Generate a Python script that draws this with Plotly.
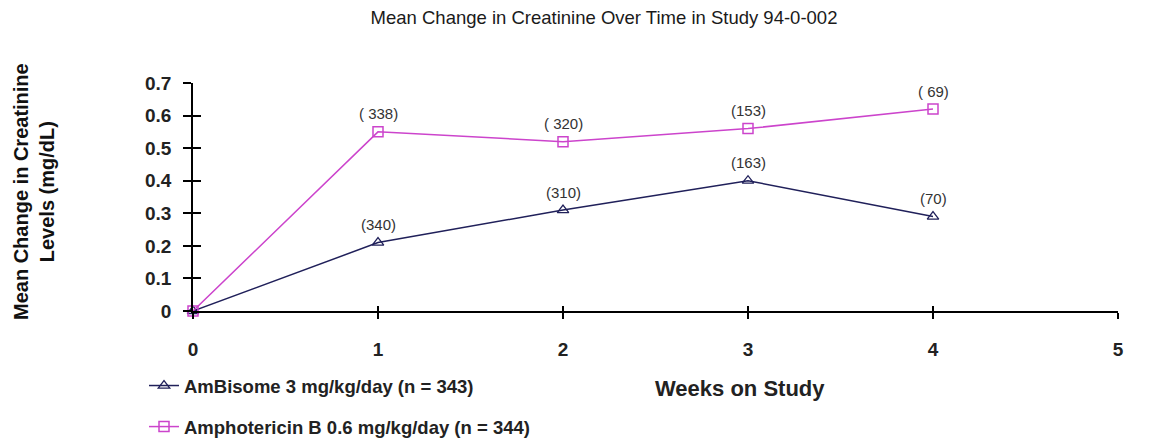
import plotly.graph_objects as go

weeks = [0, 1, 2, 3, 4]
ambisome = [0, 0.21, 0.31, 0.40, 0.29]
amphob = [0, 0.55, 0.52, 0.56, 0.62]
ambisome_n = ["", "(340)", "(310)", "(163)", "(70)"]
amphob_n = ["", "( 338)", "( 320)", "(153)", "( 69)"]
xticks = [0, 1, 2, 3, 4, 5]
yticks = [0, 0.1, 0.2, 0.3, 0.4, 0.5, 0.6, 0.7]
ytick_labels = ["0", "0.1", "0.2", "0.3", "0.4", "0.5", "0.6", "0.7"]

navy = "#20205a"
pink = "#cc44cc"
font = "Liberation Sans, Arial, sans-serif"

# page body has an 8px margin, so figure is 8px smaller than window
W, H = 1141, 433
L, R, T, B = 185, 31, 75, 130
PW = W - L - R
PH = H - T - B

fig = go.Figure()
fig.add_trace(go.Scatter(
    x=weeks, y=ambisome, mode="lines+markers",
    name="AmBisome 3 mg/kg/day (n = 343)",
    line=dict(color=navy, width=1.5),
    marker=dict(symbol="triangle-up-open", size=10, color=navy, line=dict(width=1.3)),
    legendgroup="a", cliponaxis=False))
fig.add_trace(go.Scatter(
    x=weeks, y=amphob, mode="lines+markers",
    name="Amphotericin B 0.6 mg/kg/day (n = 344)",
    line=dict(color=pink, width=1.5),
    marker=dict(symbol="square-open", size=10, color=pink, line=dict(width=1.5)),
    legendgroup="b", cliponaxis=False))

for xs, ys, labels in [(weeks, ambisome, ambisome_n), (weeks, amphob, amphob_n)]:
    for xv, yv, lab in zip(xs, ys, labels):
        if lab:
            fig.add_annotation(x=xv, y=yv, text=lab, showarrow=False, yshift=18,
                               xanchor="center", yanchor="middle",
                               font=dict(family=font, size=15, color="#333"))

axis_common = dict(showgrid=False, zeroline=False, showline=True, linecolor="black",
                   linewidth=1.5, tickcolor="black", tickwidth=1.5)

fig.update_layout(
    width=W, height=H,
    margin=dict(l=L, r=R, t=T, b=B, autoexpand=False),
    paper_bgcolor="white", plot_bgcolor="white",
    font=dict(family=font, color="#222"),
    title=dict(text="Mean Change in Creatinine Over Time in Study 94-0-002",
               x=(604 - 8) / W, xanchor="center", y=1 - (18 - 8) / H, yanchor="middle",
               font=dict(size=18.5, family=font, color="#1a1a1a")),
    xaxis=dict(range=[0, 5], tickvals=xticks, ticks="outside", ticklen=6,
               ticklabelstandoff=14,
               tickfont=dict(size=19, family=font, color="#222", weight="bold"),
               **axis_common),
    yaxis=dict(range=[0, 0.7], tickvals=yticks, ticktext=ytick_labels, ticks="outside",
               ticklen=8, ticklabelstandoff=8,
               tickfont=dict(size=19, family=font, color="#222", weight="bold"),
               **axis_common),
    xaxis2=dict(range=[0, 5], tickvals=xticks, ticks="inside", ticklen=5,
                showticklabels=False, overlaying="x", anchor="y", matches="x", **axis_common),
    yaxis2=dict(range=[0, 0.7], tickvals=yticks, ticks="inside", ticklen=8,
                showticklabels=False, overlaying="y", anchor="x", matches="y", **axis_common),
    legend=dict(x=-49 / PW, y=1 - 359 / H, yref="container", xanchor="left", yanchor="top",
                font=dict(size=18.5, family=font, color="#222", weight="bold"),
                traceorder="grouped", tracegroupgap=14, bgcolor="rgba(0,0,0,0)"),
    showlegend=True,
)
fig.add_trace(go.Scatter(x=[None], y=[None], xaxis="x2", yaxis="y2", showlegend=False,
                         hoverinfo="skip"))

fig.add_annotation(text="Weeks on Study", x=(740 - 193) / PW, y=(311 - 388) / PH,
                   xref="paper", yref="paper", xanchor="center", yanchor="middle",
                   showarrow=False,
                   font=dict(size=22, family=font, color="#222", weight="bold"))
fig.add_annotation(text="Mean Change in Creatinine<br>Levels (mg/dL)", textangle=-90,
                   x=(34 - 193) / PW, y=(311 - 192) / PH, xref="paper", yref="paper",
                   xanchor="center", yanchor="middle", showarrow=False,
                   font=dict(size=20, family=font, color="#111", weight="bold"))

fig.write_html("out.html")
